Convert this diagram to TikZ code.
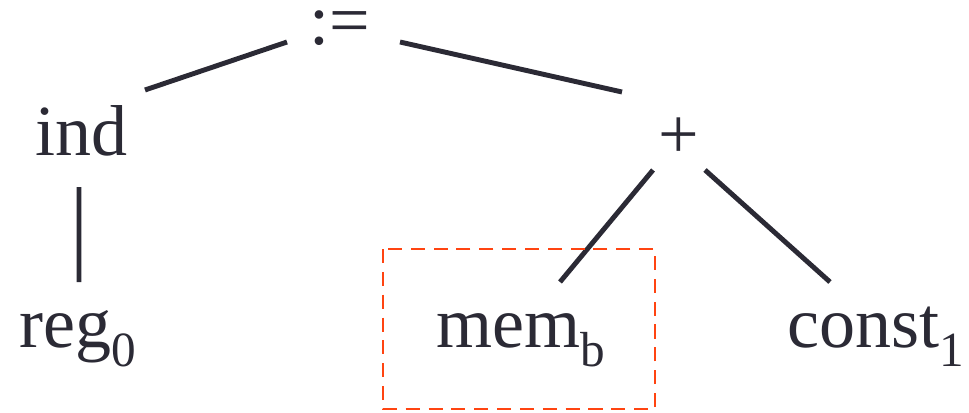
\documentclass[tikz,border=0pt]{standalone}
\usepackage{fontspec}
\setmainfont{Liberation Serif}
\usetikzlibrary{calc}
\definecolor{inkgray}{HTML}{2B2A35}
\definecolor{markred}{HTML}{FF4411}
\newcommand{\lowsub}[1]{\raisebox{-11pt}{\fontsize{28}{30}\selectfont #1}}

\begin{document}
\begin{tikzpicture}[
    x=0.02cm, y=-0.02cm,
    term/.style={anchor=base, inner sep=0pt, text=inkgray,
      font=\fontsize{41}{49}\selectfont},
    edge/.style={draw=inkgray, line width=2.8pt},
    markbox/.style={draw=markred, line width=1.1pt, dash pattern=on 8pt off 5pt},
  ]
  \useasboundingbox (0,0) rectangle (969,412);

  % =================== Nodes ===================
  \node[term] (assign) at (340,45) {:=};
  \node[term] (ind)    at (81.5,155) {ind};
  \node[term] (plus)   at (679,158) {+};
  \node[term] (reg)    at (77.5,347) {reg\lowsub{0}};
  \node[term] (mem)    at (520.5,347) {mem\lowsub{b}};
  \node[term] (const)  at (876,347) {const\lowsub{1}};

  % =================== Edges ===================
  \draw[edge] ($(ind.base)+(63.5,-65)$) -- ($(assign.base)+(-53,-3)$);
  \draw[edge] ($(assign.base)+(60,-3)$) -- ($(plus.base)+(-57,-66)$);
  \draw[edge] ($(ind.base)+(-2.5,32)$) -- ($(reg.base)+(1.5,-65)$);
  \draw[edge] ($(plus.base)+(-26,12)$) -- ($(mem.base)+(39.5,-65)$);
  \draw[edge] ($(plus.base)+(26,12)$) -- ($(const.base)+(-46,-65)$);

  % Highlight
  \draw[markbox] ($(mem.base)+(-137.5,-98)$) rectangle ($(mem.base)+(134.5,62)$);
\end{tikzpicture}
\end{document}
